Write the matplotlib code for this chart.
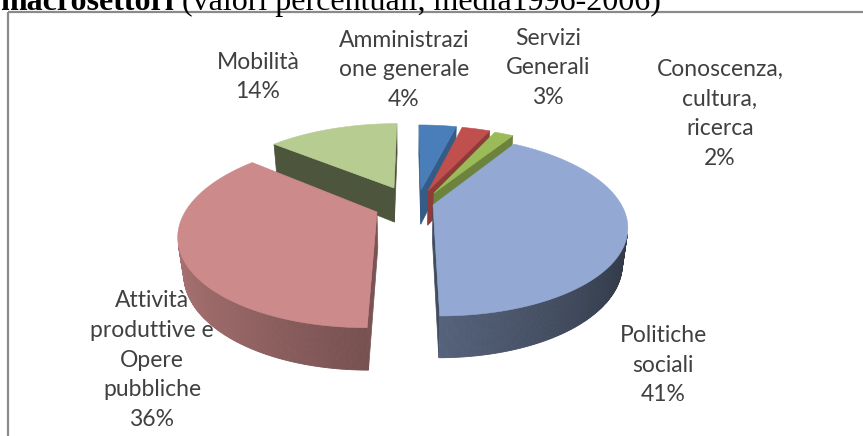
import numpy as np
import matplotlib

matplotlib.use("Agg")

import matplotlib.pyplot as plt
from matplotlib.colors import to_rgb
from matplotlib.patches import Polygon, Rectangle

# chart data (media 1996-2006, valori percentuali)
labels = [
    "Amministrazi\none generale",
    "Servizi\nGenerali",
    "Conoscenza,\ncultura,\nricerca",
    "Politiche\nsociali",
    "Attività\nproduttive e\nOpere\npubbliche",
    "Mobilità",
]
shares = [4, 3, 2, 41, 36, 14]

top_colors = ["#4a7ebb", "#c0504d", "#9bbb59", "#93a9d4", "#cd8a8a", "#b7cc90"]
side_shade = [0.72, 0.74, 0.70, 0.45, 0.60, 0.42]

# layout in pixels (figure is 863 x 436, y grows downwards)
apex_px = [(421, 190), (428, 191), (434, 193), (433, 205), (377, 212), (394, 188)]
label_xy = [(404, 70), (548, 68), (720, 114), (663, 365), (152, 360), (258, 77)]

# simple perspective camera looking down on a unit disk
ELEV = np.radians(26.7)
DIST = 4.0
FOCAL = 186 * DIST
CX, CY = 410, 200
THICK = 0.215
cam = np.array([0.0, -DIST * np.cos(ELEV), DIST * np.sin(ELEV)])
fwd = np.array([0.0, np.cos(ELEV), -np.sin(ELEV)])
up = np.array([0.0, np.sin(ELEV), np.cos(ELEV)])
right = np.array([1.0, 0.0, 0.0])


def project(pts):
    v = np.atleast_2d(pts) - cam
    d = v @ fwd
    return np.c_[CX + FOCAL * (v @ right) / d, CY - FOCAL * (v @ up) / d]


def unproject(px, py):
    ray = fwd + (px - CX) / FOCAL * right + (CY - py) / FOCAL * up
    t = -cam[2] / ray[2]
    return cam + t * ray


def facing(normal, point):
    return np.dot(normal, cam - point) > 0


def shade(color, f):
    return tuple(np.clip(np.array(to_rgb(color)) * f, 0, 1))


fig = plt.figure(figsize=(8.63, 4.36), dpi=100)
ax = fig.add_axes([0, 0, 1, 1])
ax.set_xlim(0, 863)
ax.set_ylim(436, 0)
ax.axis("off")

ax.add_patch(Rectangle((8, 12), 900, 500, fill=False, edgecolor="#8a8a8a", linewidth=1.6))

bounds = np.concatenate([[0], np.cumsum(shares)]) / sum(shares) * 360.0

slices = []
for i in range(len(shares)):
    a0, a1 = bounds[i], bounds[i + 1]
    apex = unproject(*apex_px[i])
    mid = np.radians((a0 + a1) / 2)
    probe = apex + 0.5 * np.array([np.sin(mid), np.cos(mid), 0.0])
    slices.append(((probe - cam) @ fwd, i, a0, a1, apex))

for _, i, a0, a1, apex in sorted(slices, reverse=True):
    color = top_colors[i]
    th = np.radians(np.linspace(a0, a1, max(8, int(a1 - a0) * 2)))
    rim_top = np.c_[apex[0] + np.sin(th), apex[1] + np.cos(th), np.zeros_like(th)]
    rim_bot = rim_top - [0, 0, THICK]
    apex_bot = apex - [0, 0, THICK]

    # radial faces
    for ang, sign, rt, rb in [(th[0], -1, rim_top[0], rim_bot[0]), (th[-1], 1, rim_top[-1], rim_bot[-1])]:
        normal = sign * np.array([np.cos(ang), -np.sin(ang), 0.0])
        if facing(normal, (apex + rt) / 2):
            quad = project(np.array([apex, rt, rb, apex_bot]))
            c = shade(color, side_shade[i])
            ax.add_patch(Polygon(quad, closed=True, facecolor=c, edgecolor=c, linewidth=0.5))

    # outer wall with a left-to-right gradient
    for k in range(len(th) - 1):
        m = (th[k] + th[k + 1]) / 2
        normal = np.array([np.sin(m), np.cos(m), 0.0])
        if not facing(normal, (rim_top[k] + rim_top[k + 1]) / 2):
            continue
        quad = project(np.array([rim_top[k], rim_top[k + 1], rim_bot[k + 1], rim_bot[k]]))
        c = shade(color, 0.58 - 0.25 * np.sin(m))
        ax.add_patch(Polygon(quad, closed=True, facecolor=c, edgecolor=c, linewidth=0.6))

    top = project(np.vstack([apex, rim_top]))
    ax.add_patch(Polygon(top, closed=True, facecolor=color, edgecolor=color, linewidth=0.4))

for lab, val, (x, y) in zip(labels, shares, label_xy):
    ax.text(x, y, f"{lab}\n{val}%", ha="center", va="center", multialignment="center",
            fontsize=16.5, color="#404040", family=["Lato", "DejaVu Sans"], linespacing=1.52)

# title cut off by the top of the picture
t1 = ax.text(0, 10, "macrosettori", fontsize=23, fontweight="bold",
             family=["Liberation Serif", "DejaVu Serif"], va="baseline", ha="left")
renderer = fig.canvas.get_renderer()
bb = t1.get_window_extent(renderer)
x_end = ax.transData.inverted().transform((bb.x1, bb.y0))[0]
ax.text(x_end, 10, " (valori percentuali, media1996-2006)", fontsize=23,
        family=["Liberation Serif", "DejaVu Serif"], va="baseline", ha="left")

fig.savefig("out.png", dpi=100)
